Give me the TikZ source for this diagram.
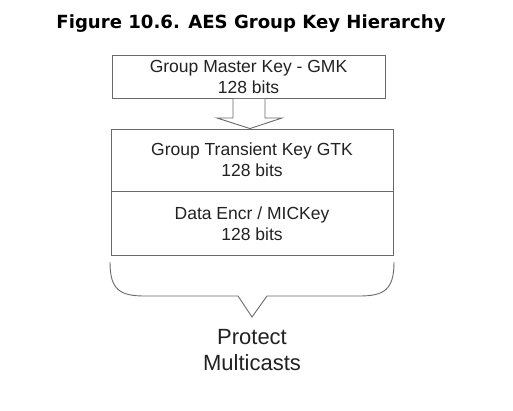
\documentclass[tikz,border=0pt]{standalone}
\usepackage{fontspec}
\setmainfont{Liberation Sans}
\newfontfamily\titlefont{DejaVu Sans}
\definecolor{linegray}{HTML}{6A6A6A}
\definecolor{txt}{HTML}{222222}
\begin{document}
\begin{tikzpicture}[x=1pt,y=-1pt,
  keybox/.style={draw=linegray,line width=0.9pt,rectangle,inner sep=0pt,align=center,text=txt,
    font=\fontsize{17.5}{21}\selectfont},
  shapeline/.style={draw=linegray,line width=0.9pt}]
\useasboundingbox[fill=white] (0,0) rectangle (513,410);
\node[font=\titlefont\bfseries\fontsize{18.1}{22}\selectfont,text=black] (title) at (251,24) {Figure 10.6. AES Group Key Hierarchy};
\node[keybox,minimum width=273,minimum height=43] (gmk) at (248.5,77) {Group Master Key - GMK\\128 bits};
\node[keybox,minimum width=282,minimum height=62] (gtk) at (252,160) {Group Transient Key GTK\\128 bits};
\node[keybox,minimum width=282,minimum height=64,anchor=north] (data) at (gtk.south) {Data Encr / MICKey\\128 bits};
% hollow arrow from GMK to GTK
\draw[shapeline,fill=white] (gmk.south -| 233,0) -- (233,118) -- (217,118) -- (gtk.north -| 250,0) -- (282,118) -- (265,118) -- (gmk.south -| 265,0);
% brace
\draw[shapeline] (110,262) .. controls (110,290) and (120,296) .. (145,296) -- (238,296) -- (252,317) -- (267,296) -- (359,296) .. controls (384,296) and (394,290) .. (394,262);
\node[font=\fontsize{22}{26}\selectfont,text=txt,align=center] (protect) at (252,350) {Protect\\Multicasts};
\end{tikzpicture}
\end{document}
